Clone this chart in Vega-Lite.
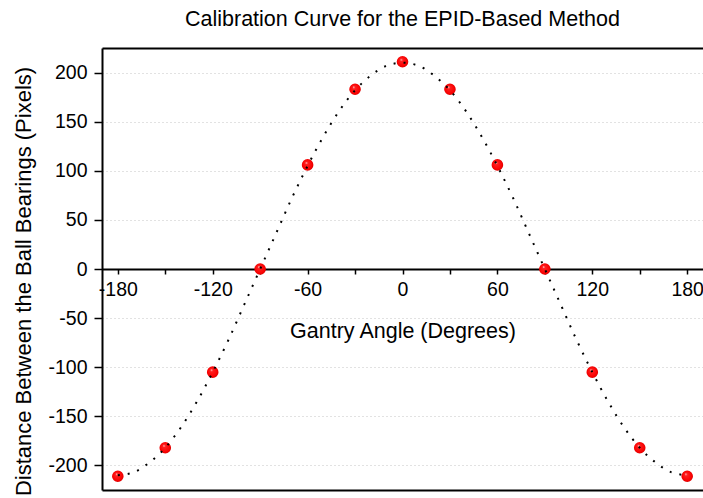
{
  "$schema": "https://vega.github.io/schema/vega-lite/v6.json",
  "width": 601,
  "height": 442,
  "autosize": {"type": "none"},
  "padding": {"left": 102, "top": 48, "right": 0, "bottom": 8},
  "background": "white",
  "config": {
    "view": {"stroke": null},
    "font": "Liberation Sans",
    "axis": {"labelFont": "Liberation Sans", "titleFont": "Liberation Sans", "labelColor": "black", "titleColor": "black", "titleFontWeight": "normal"}
  },
  "title": {"text": "Calibration Curve for the EPID-Based Method", "fontSize": 21.5, "fontWeight": "normal", "font": "Liberation Sans", "color": "black", "anchor": "middle", "offset": 18},
  "datasets": {
    "pts": [
      {"angle": -180, "dist": -211}, {"angle": -150, "dist": -182}, {"angle": -120, "dist": -105},
      {"angle": -90, "dist": 0}, {"angle": -60, "dist": 106}, {"angle": -30, "dist": 183},
      {"angle": 0, "dist": 211}, {"angle": 30, "dist": 183}, {"angle": 60, "dist": 106},
      {"angle": 90, "dist": 0}, {"angle": 120, "dist": -105}, {"angle": 150, "dist": -182},
      {"angle": 180, "dist": -211}
    ],
    "curve": [
      {"angle": -180, "dist": -210}, {"angle": -170, "dist": -207}, {"angle": -160, "dist": -197},
      {"angle": -150, "dist": -182}, {"angle": -140, "dist": -161}, {"angle": -130, "dist": -135},
      {"angle": -120, "dist": -105}, {"angle": -110, "dist": -72}, {"angle": -100, "dist": -36},
      {"angle": -90, "dist": 0}, {"angle": -80, "dist": 36}, {"angle": -70, "dist": 72},
      {"angle": -60, "dist": 105}, {"angle": -50, "dist": 135}, {"angle": -40, "dist": 161},
      {"angle": -30, "dist": 182}, {"angle": -20, "dist": 197}, {"angle": -10, "dist": 207},
      {"angle": 0, "dist": 210}, {"angle": 10, "dist": 207}, {"angle": 20, "dist": 197},
      {"angle": 30, "dist": 182}, {"angle": 40, "dist": 161}, {"angle": 50, "dist": 135},
      {"angle": 60, "dist": 105}, {"angle": 70, "dist": 72}, {"angle": 80, "dist": 36},
      {"angle": 90, "dist": 0}, {"angle": 100, "dist": -36}, {"angle": 110, "dist": -72},
      {"angle": 120, "dist": -105}, {"angle": 130, "dist": -135}, {"angle": 140, "dist": -161},
      {"angle": 150, "dist": -182}, {"angle": 160, "dist": -197}, {"angle": 170, "dist": -207},
      {"angle": 180, "dist": -210}
    ]
  },
  "encoding": {
    "y": {
      "field": "dist", "type": "quantitative",
      "scale": {"domain": [-225, 225], "nice": false, "zero": false},
      "axis": {
        "orient": "left", "values": [-200, -150, -100, -50, 0, 50, 100, 150, 200],
        "labelExpr": "'' + datum.value",
        "domain": true, "domainColor": "black", "domainWidth": 2,
        "ticks": true, "tickColor": "black", "tickWidth": 1.5, "tickSize": 8,
        "labelFontSize": 19.5, "labelPadding": 7,
        "grid": true, "gridColor": "#c4c4c4", "gridDash": [1, 3], "gridWidth": 1,
        "title": "Distance Between the Ball Bearings (Pixels)", "titleFontSize": 22, "titlePadding": 12, "titleY": 233
      }
    }
  },
  "layer": [
    {
      "data": {"name": "curve"},
      "mark": {"type": "line", "opacity": 0},
      "encoding": {
        "x": {"field": "angle", "type": "quantitative", "scale": {"domain": [-190, 190], "nice": false, "zero": false},
          "axis": {"orient": "bottom", "domain": true, "domainColor": "black", "domainWidth": 2, "ticks": false, "labels": false, "grid": false, "title": null}}
      }
    },
    {
      "data": {"name": "pts"},
      "mark": {"type": "point", "filled": true, "size": 135, "opacity": 1,
        "fill": {"gradient": "radial", "x1": 0.38, "y1": 0.32, "r1": 0, "x2": 0.5, "y2": 0.5, "r2": 0.55,
          "stops": [{"offset": 0, "color": "#ffe8e8"}, {"offset": 0.2, "color": "#ff2020"}, {"offset": 0.8, "color": "#f80000"}, {"offset": 1, "color": "#c00000"}]},
        "stroke": null},
      "encoding": {
        "x": {"field": "angle", "type": "quantitative", "scale": {"domain": [-190, 190], "nice": false, "zero": false},
          "axis": {"orient": "bottom", "offset": -221, "values": [-180, -150, -120, -90, -60, -30, 0, 30, 60, 90, 120, 150, 180],
            "labelExpr": "datum.value % 60 == 0 ? '' + datum.value : ''",
            "domain": true, "domainColor": "black", "domainWidth": 2,
            "ticks": true, "tickColor": "black", "tickWidth": 1.5, "tickSize": 5,
            "labelFontSize": 19.5, "labelPadding": 6, "labelFlush": false, "labelOverlap": false,
            "grid": false, "title": "Gantry Angle (Degrees)", "titleFontSize": 21.5, "titlePadding": 22}}
      }
    },
    {
      "data": {"name": "curve"},
      "mark": {"type": "line", "color": "black", "strokeWidth": 2, "strokeDash": [2, 8], "interpolate": "monotone"},
      "encoding": {
        "x": {"field": "angle", "type": "quantitative", "scale": {"domain": [-190, 190], "nice": false, "zero": false},
          "axis": {"orient": "top", "domain": true, "domainColor": "black", "domainWidth": 2, "ticks": false, "labels": false, "grid": false, "title": null}}
      }
    }
  ],
  "resolve": {"axis": {"x": "independent"}}
}
